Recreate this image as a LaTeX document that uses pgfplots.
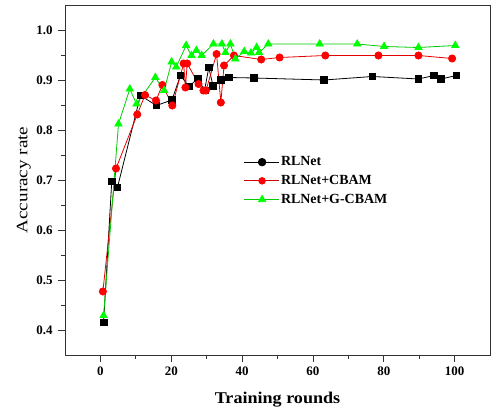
\documentclass[border=0pt]{standalone}
\usepackage{pgfplots}
\pgfplotsset{compat=1.18}
\usepackage{fontspec}
\setmainfont{Liberation Serif}
\newfontfamily\xlabfont[FakeStretch=1.1]{Liberation Serif}
\newfontfamily\ylabfont[FakeStretch=1.2]{Liberation Serif}

\begin{document}
\begin{tikzpicture}
\begin{axis}[
    name=ax,
    scale only axis,
    width=425bp, height=350bp,
    xmin=-10, xmax=110,
    ymin=0.35, ymax=1.05,
    xtick={0,20,40,60,80,100},
    ytick={0.4,0.5,0.6,0.7,0.8,0.9,1.0},
    minor x tick num=1,
    minor y tick num=1,
    tick pos=left,
    tick align=outside,
    major tick length=7bp,
    minor tick length=4bp,
    axis line style={line width=0.9bp, black!80},
    tick style={line width=0.8bp, black!80},
    /pgf/number format/assume math mode=true,
    ticklabel style={font=\bfseries\fontsize{13}{15}\selectfont},
    yticklabel style={/pgf/number format/fixed, /pgf/number format/fixed zerofill, /pgf/number format/precision=1, xshift=-2bp},
    xticklabel style={yshift=-1bp},
    xlabel={Training rounds},
    ylabel={Accuracy rate},
    xlabel style={font=\xlabfont\bfseries\fontsize{16.5}{18}\selectfont,
        at={(axis description cs:0.5,-0.106)}, anchor=north, inner sep=0pt},
    ylabel style={font=\ylabfont\fontsize{16}{18}\selectfont,
        at={(axis description cs:-0.08,0.5)}, anchor=south, inner sep=0pt},
    legend style={draw=none, fill=none, inner sep=0pt, at={(0.42,0.571)}, anchor=north west,
        font=\bfseries\fontsize{14}{16}\selectfont, row sep=5bp,
        nodes={inner sep=1.5bp}},
    legend cell align=left,
    legend image code/.code={
        \draw[mark repeat=2, mark phase=2, #1] plot coordinates {(0bp,0bp) (18bp,0bp) (35bp,0bp)};
    },
]
\addlegendimage{black, line width=0.8bp, mark=*, mark size=3.8bp}
\addlegendentry{RLNet}
\addlegendimage{red!80!black, line width=0.8bp, mark=*, mark size=3.3bp, mark options={fill=red, draw=red}}
\addlegendentry{RLNet+CBAM}
\addlegendimage{green!80!black, line width=0.8bp, mark=triangle*, mark size=4.2bp, mark options={fill=green, draw=green}}
\addlegendentry{RLNet+G-CBAM}

% RLNet
\addplot[black, line width=0.8bp, mark=square*, mark size=3.4bp, forget plot] coordinates {
(0.9,0.415) (3.2,0.697) (4.8,0.685) (11.3,0.869) (15.8,0.849) (20.2,0.860)
(22.6,0.909) (25.0,0.887) (27.5,0.903) (29.4,0.879) (30.6,0.925) (31.8,0.888)
(34.0,0.900) (36.2,0.905) (43.3,0.904) (63.2,0.900) (76.8,0.907) (89.8,0.902)
(94.2,0.909) (96.2,0.902) (100.5,0.909)
};
% RLNet+CBAM
\addplot[red!90!black, line width=0.8bp, mark=*, mark size=3.6bp, mark options={fill=red, draw=red}, forget plot] coordinates {
(0.7,0.477) (4.4,0.723) (10.4,0.831) (12.6,0.870) (15.7,0.859) (17.5,0.890)
(20.3,0.849) (23.5,0.933) (24.0,0.885) (24.5,0.933) (27.7,0.892) (29.1,0.879)
(29.8,0.879) (32.8,0.952) (34.0,0.855) (34.9,0.929) (37.7,0.949) (45.4,0.941)
(50.6,0.945) (63.5,0.949) (78.5,0.949) (89.8,0.949) (99.3,0.943)
};
% RLNet+G-CBAM
\addplot[green!80!black, line width=0.8bp, mark=triangle*, mark size=4.2bp, mark options={fill=green, draw=green}, forget plot] coordinates {
(0.9,0.429) (5.1,0.812) (8.3,0.882) (10.2,0.852) (15.5,0.905) (18.0,0.879)
(20.1,0.936) (21.4,0.926) (24.2,0.969) (25.7,0.949) (27.1,0.959) (28.6,0.949)
(31.9,0.972) (34.3,0.972) (35.3,0.955) (36.7,0.972) (38.1,0.942) (40.6,0.957)
(42.5,0.954) (44.1,0.965) (44.8,0.955) (47.4,0.972) (61.9,0.972) (72.5,0.972)
(80.1,0.967) (89.8,0.965) (100.2,0.969)
};
\end{axis}
% keep the reference's margins around the axis
\path (ax.south west) ++(-65bp,-59bp);
\path (ax.north east) ++(3bp,5bp);
\end{tikzpicture}
\end{document}
